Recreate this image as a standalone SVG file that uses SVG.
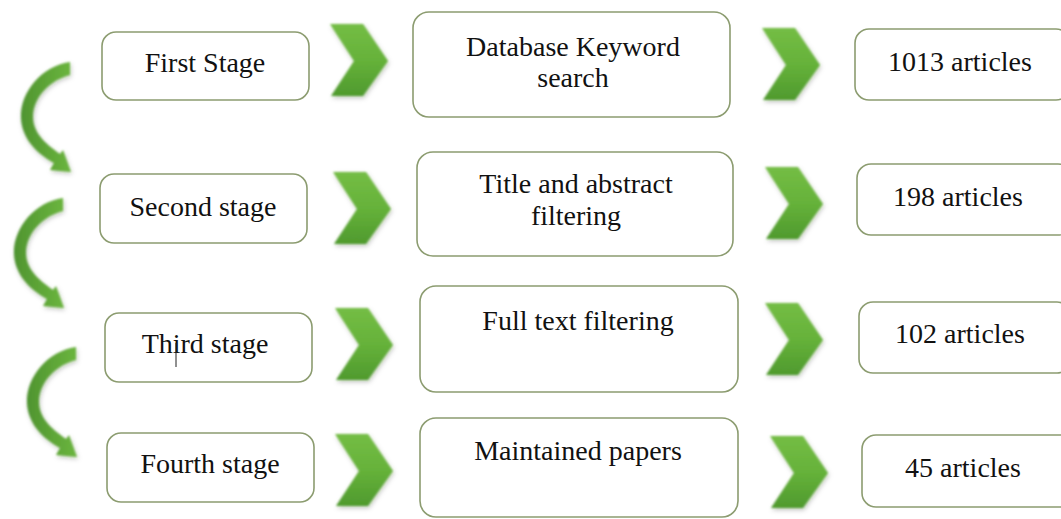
<svg xmlns="http://www.w3.org/2000/svg" width="1061" height="519" viewBox="0 0 1061 519">
<style>
.box{fill:#ffffff;stroke:#8c9c70;stroke-width:1.6}
.t{font-family:"Liberation Serif","Times New Roman",serif;font-size:28px;fill:#111111;text-anchor:middle}
.chev{fill:url(#gchev);filter:url(#sh)}
.curve{fill:url(#gcurve);filter:url(#sh)}
</style>
<defs>
<linearGradient id="gchev" x1="0" y1="0" x2="0" y2="1">
<stop offset="0" stop-color="#74bd45"/>
<stop offset="0.5" stop-color="#66b23a"/>
<stop offset="1" stop-color="#4f9a2e"/>
</linearGradient>
<linearGradient id="gcurve" x1="0" y1="0" x2="1" y2="0">
<stop offset="0" stop-color="#4f9430"/>
<stop offset="1" stop-color="#6bb53e"/>
</linearGradient>
<filter id="sh" x="-30%" y="-30%" width="160%" height="160%">
<feGaussianBlur in="SourceGraphic" stdDeviation="0.8" result="b"/>
<feDropShadow in="b" dx="1" dy="2" stdDeviation="2" flood-color="#000" flood-opacity="0.25"/>
</filter>
<path id="chevron" d="M0,0 L33,0 L58,37 L33,72 L1,72 L24,37 Z"/>
<path id="carrow" d="M70,62 C42,66 20,92 21,118 C22,138 36,153 54,163 L50,170 L71,172 L63,150 L60,154 C44,143 33,132 33,117 C33,97 50,80 70,75 Z"/>
</defs>
<rect width="1061" height="519" fill="#ffffff"/>

<g id="connectors">
<use href="#carrow" class="curve"/>
<use href="#carrow" class="curve" transform="translate(-7,136)"/>
<use href="#carrow" class="curve" transform="translate(6,285)"/>
<use href="#chevron" class="chev" transform="translate(330,24)"/>
<use href="#chevron" class="chev" transform="translate(762,28)"/>
<use href="#chevron" class="chev" transform="translate(333,172)"/>
<use href="#chevron" class="chev" transform="translate(765,167)"/>
<use href="#chevron" class="chev" transform="translate(335,308)"/>
<use href="#chevron" class="chev" transform="translate(765,303)"/>
<use href="#chevron" class="chev" transform="translate(335,434)"/>
<use href="#chevron" class="chev" transform="translate(770,436)"/>
</g>

<g id="first-stage"><rect class="box" x="102" y="32" width="207" height="68" rx="14"/><text class="t" x="205" y="72">First Stage</text></g>
<g id="second-stage"><rect class="box" x="100" y="174" width="207" height="69" rx="14"/><text class="t" x="203" y="216">Second stage</text></g>
<g id="third-stage"><rect class="box" x="105" y="313" width="207" height="69" rx="14"/><text class="t" x="205" y="353">Third stage</text><line x1="176" y1="343" x2="176" y2="367" stroke="#222" stroke-width="1"/></g>
<g id="fourth-stage"><rect class="box" x="107" y="433" width="207" height="69" rx="14"/><text class="t" x="210" y="473">Fourth stage</text></g>

<g id="database-search"><rect class="box" x="413" y="12" width="317" height="105" rx="16"/><text class="t" x="573" y="56">Database Keyword</text><text class="t" x="573" y="87">search</text></g>
<g id="title-abstract"><rect class="box" x="417" y="152" width="316" height="104" rx="16"/><text class="t" x="576" y="193">Title and abstract</text><text class="t" x="576" y="225">filtering</text></g>
<g id="full-text"><rect class="box" x="420" y="286" width="318" height="106" rx="16"/><text class="t" x="578" y="330">Full text filtering</text></g>
<g id="maintained"><rect class="box" x="420" y="418" width="318" height="99" rx="16"/><text class="t" x="578" y="460">Maintained papers</text></g>

<g id="articles-1013"><rect class="box" x="855" y="29" width="215" height="71" rx="14"/><text class="t" x="960" y="71">1013 articles</text></g>
<g id="articles-198"><rect class="box" x="857" y="164" width="215" height="71" rx="14"/><text class="t" x="958" y="206">198 articles</text></g>
<g id="articles-102"><rect class="box" x="859" y="302" width="212" height="71" rx="14"/><text class="t" x="960" y="343">102 articles</text></g>
<g id="articles-45"><rect class="box" x="862" y="435" width="212" height="72" rx="14"/><text class="t" x="963" y="477">45 articles</text></g>
</svg>
